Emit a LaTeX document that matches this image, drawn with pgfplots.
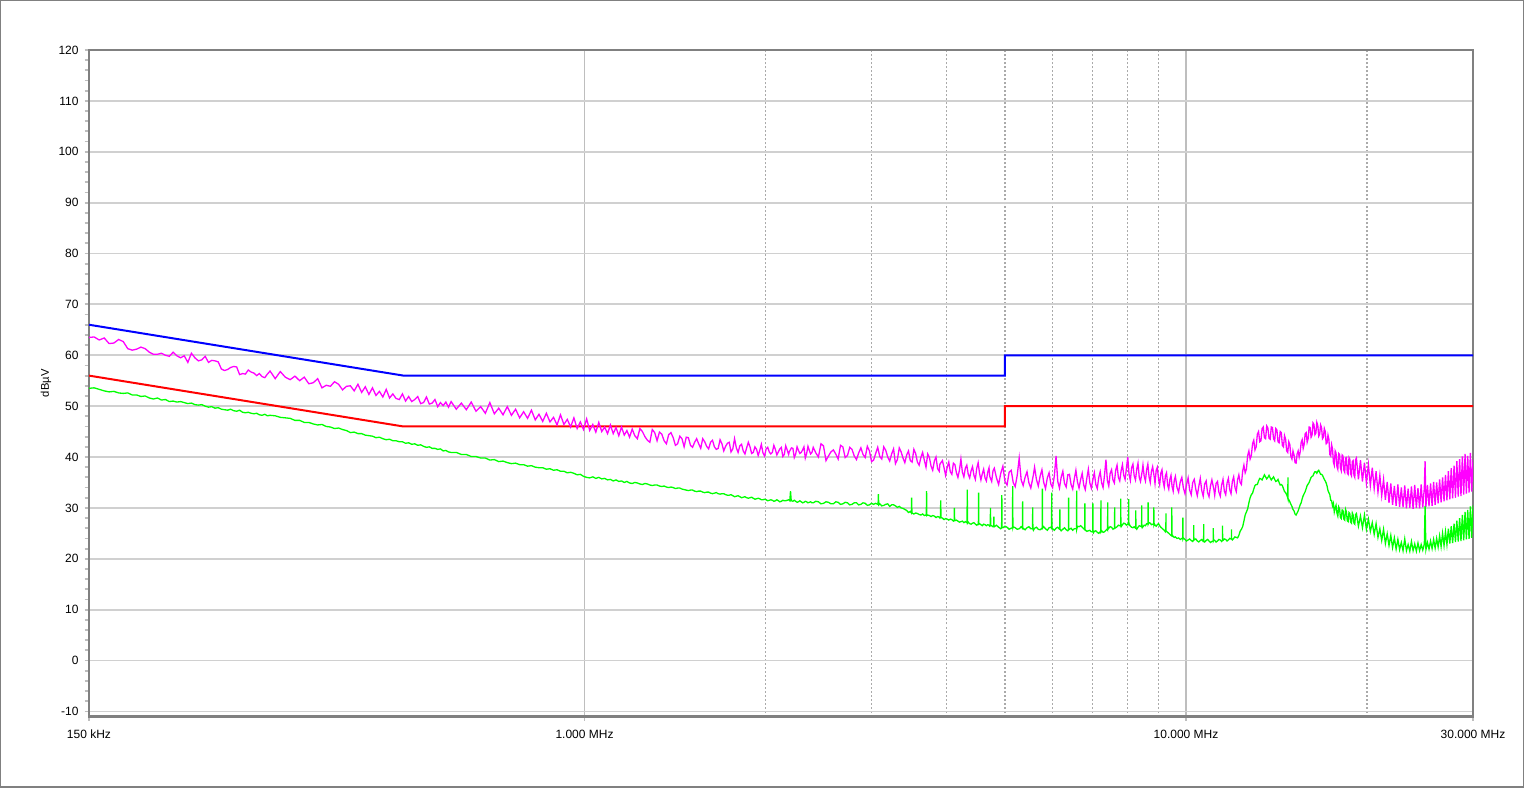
\documentclass[border=0pt]{standalone}
\usepackage{fontspec}
\setmainfont{Liberation Sans}
\usepackage{pgfplots}
\pgfplotsset{compat=1.18}
\usepackage{pgfplotstable}
\definecolor{mag}{RGB}{255,0,255}
\definecolor{grn}{RGB}{0,255,0}
\definecolor{blu}{RGB}{0,0,255}
\definecolor{rd}{RGB}{255,0,0}
\definecolor{gridc}{RGB}{208,208,208}
\definecolor{vgridc}{RGB}{190,190,190}
\definecolor{framec}{RGB}{128,128,128}
\definecolor{dotc}{RGB}{170,170,170}
\definecolor{tickc}{RGB}{190,190,190}

% f in MHz, pk = peak trace (dBuV), av = average trace (dBuV)
\pgfplotstableread{
f pk av
0.150 63.5 53.5
0.153 63.6 53.6
0.156 63.0 53.3
0.159 63.4 53.0
0.162 62.3 52.8
0.165 62.4 52.9
0.168 63.1 52.6
0.171 62.7 52.5
0.174 61.3 52.6
0.177 61.0 52.2
0.180 61.2 52.2
0.183 61.6 51.9
0.186 61.3 52.0
0.189 60.6 51.6
0.192 60.2 51.4
0.195 60.2 51.6
0.198 60.4 51.2
0.201 60.0 51.3
0.204 59.8 50.9
0.207 60.6 51.0
0.210 59.9 50.8
0.213 59.5 50.9
0.216 59.9 50.7
0.219 58.6 50.5
0.222 60.4 50.6
0.225 59.5 50.3
0.228 58.9 50.2
0.231 59.1 50.3
0.234 59.8 50.0
0.237 58.6 49.8
0.240 59.0 49.9
0.243 58.9 49.6
0.246 58.7 49.7
0.249 57.3 49.4
0.252 57.0 49.3
0.255 57.2 49.2
0.258 57.6 49.4
0.261 57.8 49.1
0.264 57.7 49.0
0.267 56.2 49.2
0.270 56.4 48.8
0.273 56.3 48.7
0.276 57.1 48.8
0.279 56.7 48.6
0.282 56.5 48.5
0.285 56.0 48.6
0.288 56.4 48.3
0.291 55.8 48.2
0.294 55.6 48.4
0.297 56.3 48.1
0.300 56.9 48.2
0.306 55.4 48.1
0.312 56.8 47.8
0.318 55.7 47.7
0.324 55.2 47.6
0.330 55.9 47.2
0.336 55.0 47.2
0.342 55.7 46.8
0.348 54.4 46.8
0.354 54.6 46.5
0.360 55.4 46.3
0.366 53.6 46.4
0.372 54.1 46.0
0.378 53.9 45.9
0.384 54.8 45.6
0.390 54.3 45.7
0.396 53.2 45.4
0.402 53.9 45.2
0.408 54.0 44.8
0.414 53.0 44.9
0.420 54.3 44.6
0.426 52.7 44.6
0.432 53.8 44.3
0.438 52.3 44.2
0.444 53.6 44.1
0.450 52.1 43.8
0.456 52.9 43.9
0.462 51.8 43.6
0.468 53.3 43.4
0.474 51.6 43.5
0.480 52.4 43.2
0.486 51.5 43.2
0.492 51.3 43.0
0.498 52.4 43.0
0.504 51.0 42.7
0.510 51.9 42.8
0.516 50.9 42.5
0.522 51.3 42.6
0.528 51.9 42.3
0.534 50.5 42.4
0.540 50.7 42.1
0.546 51.8 41.9
0.552 50.4 42.0
0.558 50.6 41.7
0.564 51.3 41.7
0.570 49.9 41.5
0.576 50.7 41.6
0.582 50.1 41.2
0.588 50.8 41.3
0.594 49.8 41.0
0.600 50.9 40.9
0.612 49.4 40.9
0.624 50.6 40.5
0.636 49.3 40.5
0.648 50.8 40.1
0.660 49.0 40.1
0.672 49.9 39.8
0.684 48.6 39.8
0.696 50.7 39.4
0.708 48.5 39.5
0.720 49.6 39.1
0.732 48.3 39.2
0.744 49.9 38.9
0.756 48.2 38.7
0.768 49.4 38.8
0.780 47.7 38.5
0.792 48.9 38.5
0.804 47.6 38.2
0.816 49.2 38.3
0.828 47.3 38.0
0.840 48.4 37.9
0.852 47.0 37.9
0.864 48.6 37.6
0.876 46.9 37.7
0.888 47.8 37.4
0.900 46.3 37.5
0.912 48.3 37.2
0.924 46.4 37.2
0.936 47.4 36.9
0.948 45.9 37.0
0.960 47.7 36.8
0.972 45.6 36.5
0.984 46.9 36.6
0.996 45.4 36.2
1.008 47.5 36.0
1.020 45.2 35.9
1.032 46.4 36.1
1.044 44.9 35.8
1.056 46.8 36.0
1.068 45.0 35.7
1.080 45.9 35.8
1.092 44.6 35.5
1.104 46.3 35.6
1.116 44.6 35.3
1.128 45.8 35.5
1.140 44.2 35.2
1.152 45.9 35.3
1.164 44.3 35.0
1.176 45.2 35.2
1.188 43.9 34.9
1.200 45.5 34.8
1.212 44.2 35.0
1.224 43.6 34.9
1.236 45.6 34.7
1.248 45.0 34.6
1.260 44.0 34.8
1.272 43.3 34.7
1.284 42.9 34.5
1.296 45.4 34.4
1.308 44.8 34.5
1.320 43.2 34.5
1.332 44.9 34.3
1.344 44.5 34.2
1.356 43.2 34.3
1.368 42.6 34.1
1.380 44.4 34.0
1.392 44.8 34.1
1.404 43.8 34.0
1.416 42.3 33.8
1.428 42.6 33.9
1.440 44.1 33.9
1.452 43.6 33.7
1.464 42.0 33.6
1.476 43.9 33.5
1.488 43.8 33.4
1.500 42.3 33.5
1.512 41.9 33.5
1.524 42.9 33.3
1.536 43.6 33.2
1.548 42.6 33.3
1.560 41.7 33.3
1.572 43.6 33.1
1.584 43.0 33.0
1.596 42.1 33.1
1.608 41.6 33.1
1.620 42.9 32.9
1.632 43.3 32.8
1.644 42.0 32.9
1.656 41.5 33.0
1.668 41.7 32.8
1.680 43.4 32.7
1.692 42.6 32.8
1.704 41.2 32.8
1.716 42.1 32.6
1.728 42.7 32.5
1.740 42.9 32.5
1.752 41.0 32.6
1.764 41.6 32.4
1.776 43.6 32.2
1.788 41.8 32.3
1.800 40.9 32.4
1.812 42.2 32.2
1.824 42.5 32.0
1.836 41.2 32.1
1.848 40.6 32.2
1.860 41.8 32.0
1.872 42.9 31.9
1.884 42.0 32.0
1.896 40.7 32.1
1.908 40.9 31.9
1.920 42.0 31.7
1.932 41.5 31.8
1.944 40.3 31.9
1.956 41.3 31.8
1.968 42.5 31.6
1.980 40.8 31.6
1.992 40.2 31.7
2.004 41.6 31.6
2.016 41.9 31.4
2.028 41.0 31.5
2.040 40.6 31.6
2.052 40.9 31.5
2.064 42.3 31.3
2.076 41.5 31.4
2.088 40.4 31.6
2.100 41.0 31.4
2.112 41.6 31.2
2.124 41.9 31.3
2.136 40.1 31.5
2.148 40.5 31.4
2.160 42.2 31.4
2.172 41.4 31.5
2.184 40.5 31.6
2.189 41.0 31.5
2.194 nan 31.4
2.200 nan 33.3
2.206 nan 31.4
2.208 41.8 31.4
2.220 41.7 31.3
2.232 39.9 31.5
2.244 40.6 31.3
2.256 42.0 31.1
2.268 41.3 31.2
2.280 40.7 31.4
2.292 40.9 31.2
2.304 41.4 31.0
2.316 42.0 31.1
2.328 39.8 31.3
2.340 40.7 31.2
2.352 42.1 31.0
2.364 41.3 31.1
2.376 40.6 31.2
2.388 40.9 31.0
2.400 41.9 31.0
2.424 40.8 31.3
2.448 40.0 31.2
2.472 42.6 30.8
2.496 42.2 30.9
2.520 39.3 31.2
2.544 40.2 31.1
2.568 41.0 30.8
2.592 41.4 30.8
2.616 40.6 31.2
2.640 39.6 31.1
2.664 42.3 30.7
2.688 42.0 30.8
2.712 39.9 31.1
2.736 40.3 31.0
2.760 41.9 30.6
2.784 41.5 30.7
2.808 40.2 31.0
2.832 39.5 31.0
2.856 40.8 30.6
2.880 41.8 30.7
2.904 40.5 31.0
2.928 39.9 30.9
2.952 42.1 30.5
2.976 41.2 30.6
3.000 39.1 30.9
3.024 39.4 30.7
3.048 40.7 30.9
3.072 41.9 30.7
3.076 nan 30.7
3.080 nan 32.7
3.084 nan 30.6
3.096 40.1 30.8
3.120 39.6 30.4
3.144 42.0 30.5
3.168 41.3 30.7
3.192 40.0 30.8
3.216 39.2 30.3
3.240 40.6 30.6
3.264 41.6 30.6
3.288 38.7 30.4
3.312 39.5 30.1
3.336 41.8 30.3
3.360 41.0 30.0
3.384 39.8 29.9
3.408 38.9 29.7
3.432 40.4 29.5
3.456 41.2 29.1
3.480 39.3 29.3
3.494 nan 29.0
3.498 nan 32.0
3.502 nan 29.0
3.504 39.0 29.0
3.528 41.5 28.8
3.552 40.7 29.0
3.576 39.0 28.9
3.600 38.4 28.7
3.624 39.9 28.6
3.648 40.9 28.8
3.672 39.4 28.5
3.696 38.0 28.6
3.700 nan 28.6
3.704 nan 33.3
3.708 nan 28.5
3.720 40.6 28.6
3.744 39.9 28.5
3.768 38.2 28.3
3.792 37.4 28.5
3.816 39.2 28.4
3.840 40.0 28.1
3.864 37.7 28.3
3.888 37.2 28.2
3.898 38.6 28.0
3.906 nan 28.1
3.910 nan 31.5
3.914 nan 28.1
3.936 39.3 28.0
3.960 37.9 27.7
3.984 36.4 27.9
4.008 38.0 27.8
4.032 39.0 27.6
4.056 37.1 27.8
4.080 36.6 27.7
4.104 38.8 27.4
4.116 nan 27.5
4.120 nan 30.0
4.124 nan 27.5
4.128 38.5 27.5
4.152 36.9 27.6
4.176 36.0 27.4
4.200 37.4 27.2
4.224 39.6 27.3
4.248 37.0 27.4
4.272 36.1 27.1
4.296 37.8 27.3
4.320 38.4 27.1
4.324 nan 27.1
4.328 nan 33.6
4.332 nan 27.0
4.344 36.6 27.2
4.368 35.9 26.9
4.392 37.3 26.8
4.416 38.1 27.0
4.440 36.4 27.1
4.464 35.6 26.8
4.488 37.8 26.6
4.512 38.9 26.8
4.516 nan 26.8
4.520 nan 33.0
4.524 nan 26.8
4.536 36.8 26.9
4.560 35.5 26.7
4.584 36.7 26.5
4.608 37.6 26.8
4.632 35.9 26.7
4.656 35.3 26.5
4.680 37.0 26.7
4.704 37.9 26.6
4.716 36.2 26.4
4.726 nan 26.5
4.730 nan 30.0
4.734 nan 26.5
4.752 35.2 26.5
4.776 37.3 26.3
4.788 nan 26.4
4.792 nan 28.3
4.796 nan 26.4
4.80 37.8 26.3
4.84 35.9 26.6
4.88 34.6 26.2
4.92 36.8 25.9
4.936 nan 26.1
4.940 nan 32.5
4.944 nan 26.1
4.96 38.2 26.1
5.00 35.2 26.4
5.04 34.5 26.2
5.08 37.0 25.8
5.12 37.4 26.0
5.146 nan 26.1
5.150 nan 34.3
5.154 nan 26.1
5.16 35.0 26.3
5.20 34.2 26.1
5.24 36.4 25.8
5.28 39.8 25.9
5.32 35.5 26.3
5.346 nan 26.0
5.350 nan 31.3
5.354 nan 26.0
5.36 34.4 26.0
5.40 36.0 25.7
5.44 37.1 26.1
5.48 34.9 26.3
5.52 33.9 25.9
5.556 nan 25.9
5.560 nan 30.1
5.564 nan 25.9
5.575 36.5 25.6
5.60 38.0 26.0
5.64 35.6 26.2
5.68 34.3 25.8
5.72 36.2 25.7
5.76 37.5 26.0
5.766 nan 26.0
5.770 nan 33.8
5.774 nan 26.0
5.80 35.0 26.3
5.84 33.8 25.9
5.88 35.9 25.6
5.92 36.9 26.1
5.96 34.7 26.2
5.976 nan 26.0
5.980 nan 33.0
5.984 nan 26.0
6.00 34.0 25.9
6.04 36.3 25.6
6.08 40.2 26.0
6.12 35.2 26.2
6.16 33.9 25.8
6.166 nan 25.8
6.170 nan 29.7
6.174 nan 25.8
6.20 36.0 25.5
6.24 37.2 25.8
6.28 34.8 26.1
6.32 34.1 25.7
6.36 36.5 25.5
6.376 nan 25.7
6.380 nan 32.0
6.384 nan 25.7
6.40 36.6 25.8
6.44 34.6 26.0
6.48 33.7 25.6
6.52 35.7 25.9
6.56 37.4 25.9
6.576 nan 25.9
6.580 nan 33.4
6.584 nan 25.9
6.60 35.1 26.4
6.64 33.9 26.3
6.68 35.6 26.5
6.72 36.8 26.2
6.76 34.5 25.9
6.786 nan 25.7
6.790 nan 30.9
6.794 nan 25.7
6.80 33.6 25.7
6.84 35.8 25.4
6.88 37.6 25.5
6.92 34.9 25.6
6.96 33.9 25.3
6.996 nan 25.3
7.000 nan 30.9
7.004 nan 25.3
7.015 36.1 25.1
7.04 36.9 25.4
7.08 34.6 25.5
7.12 33.8 25.2
7.16 36.0 25.0
7.20 37.1 25.3
7.216 nan 25.3
7.220 nan 31.5
7.224 nan 25.3
7.24 34.9 25.5
7.28 34.0 25.2
7.32 36.4 25.3
7.36 39.5 25.6
7.40 35.4 25.9
7.406 nan 25.8
7.410 nan 31.1
7.414 nan 25.8
7.44 34.3 26.0
7.48 36.8 26.3
7.52 37.5 26.2
7.56 35.5 25.8
7.60 34.9 26.0
7.606 nan 26.0
7.610 nan 30.1
7.614 nan 26.0
7.64 37.4 26.1
7.68 38.4 26.3
7.72 36.0 26.6
7.76 35.3 26.5
7.786 nan 26.5
7.790 nan 31.8
7.794 nan 26.5
7.80 37.3 26.3
7.84 38.5 26.7
7.88 36.4 27.0
7.92 35.6 26.9
7.96 37.7 26.6
8.00 40.0 26.8
8.026 nan 26.7
8.030 nan 31.7
8.034 nan 26.7
8.04 36.6 26.9
8.08 35.4 26.4
8.12 37.9 26.2
8.16 38.6 26.1
8.20 36.3 26.3
8.24 35.5 26.0
8.246 nan 26.0
8.250 nan 29.5
8.254 nan 26.0
8.28 37.6 25.8
8.32 38.8 26.2
8.36 36.0 26.5
8.40 35.2 26.4
8.436 nan 26.3
8.440 nan 30.5
8.444 nan 26.3
8.455 37.2 26.1
8.48 38.4 26.3
8.52 36.2 26.6
8.56 35.3 26.5
8.60 37.5 26.9
8.64 38.6 26.8
8.646 nan 26.8
8.650 nan 31.1
8.654 nan 26.8
8.68 36.1 27.1
8.72 35.0 27.0
8.76 37.2 26.7
8.80 38.1 26.8
8.836 nan 26.7
8.840 nan 30.1
8.844 nan 26.7
8.855 36.0 26.9
8.88 34.8 26.6
8.92 37.4 26.4
8.96 38.0 26.7
9.00 35.7 26.9
9.04 34.6 26.5
9.08 36.8 26.2
9.12 37.5 26.0
9.16 35.2 25.8
9.20 34.1 25.6
9.24 36.3 25.3
9.256 nan 25.5
9.260 nan 28.9
9.264 nan 25.5
9.28 36.9 25.4
9.32 34.5 25.2
9.36 33.7 25.0
9.40 35.6 24.8
9.44 36.4 24.6
9.466 nan 24.5
9.470 nan 30.1
9.474 nan 24.5
9.48 34.2 24.7
9.52 33.3 24.4
9.56 35.4 24.2
9.60 36.2 24.3
9.66 34.0 24.0
9.72 33.1 24.1
9.78 35.1 23.8
9.84 36.0 24.0
9.876 nan 23.9
9.880 nan 28.1
9.884 nan 23.9
9.90 33.9 24.1
9.96 32.8 23.8
10.02 34.6 23.5
10.08 35.9 23.7
10.14 33.5 23.9
10.20 32.6 23.6
10.26 35.0 23.4
10.296 nan 23.7
10.300 nan 26.6
10.304 nan 23.7
10.32 35.6 23.7
10.38 33.7 23.9
10.44 32.4 23.5
10.50 34.2 23.3
10.56 35.8 23.6
10.62 33.4 23.8
10.68 32.3 23.4
10.696 nan 23.5
10.700 nan 26.8
10.704 nan 23.5
10.74 34.7 23.3
10.80 35.3 23.6
10.86 33.0 23.8
10.92 32.2 23.5
10.98 34.3 23.2
11.04 35.5 23.4
11.096 nan 23.5
11.100 nan 26.0
11.104 nan 23.5
11.125 33.6 23.7
11.16 32.5 23.6
11.22 34.8 23.3
11.28 35.2 23.5
11.34 33.1 23.8
11.40 32.3 23.7
11.46 34.5 23.4
11.496 nan 23.6
11.500 nan 26.5
11.504 nan 23.6
11.52 35.6 23.6
11.58 33.3 23.9
11.64 32.6 23.8
11.70 34.9 23.5
11.76 35.8 23.7
11.82 33.6 24.0
11.88 32.8 23.9
11.896 nan 23.9
11.900 nan 25.8
11.904 nan 23.9
11.94 35.2 23.7
12.00 36.1 24.0
12.06 34.0 24.3
12.12 33.2 24.2
12.18 35.5 24.1
12.24 36.5 24.6
12.30 35.0 25.4
12.36 34.6 25.8
12.42 37.2 26.3
12.48 38.4 27.4
12.54 36.9 28.6
12.60 37.6 29.2
12.66 40.3 29.8
12.72 41.2 31.0
12.78 39.6 32.0
12.84 40.3 32.6
12.90 42.6 32.9
12.96 43.3 33.7
13.02 41.4 34.4
13.08 42.0 34.6
13.14 44.5 34.6
13.20 45.0 35.3
13.26 43.0 35.8
13.32 43.2 35.7
13.38 45.6 35.5
13.44 45.9 36.0
13.50 43.8 36.5
13.56 43.6 36.1
13.62 46.1 35.7
13.68 45.7 36.0
13.74 43.7 36.4
13.80 43.5 35.9
13.86 45.9 35.5
13.92 45.8 35.8
13.98 43.6 36.1
14.04 43.2 35.6
14.10 45.6 35.2
14.16 45.3 35.3
14.22 43.0 35.6
14.28 42.8 35.0
14.34 45.0 34.5
14.40 44.8 34.6
14.46 42.3 34.4
14.52 42.0 33.8
14.58 44.2 33.2
14.64 43.5 33.0
14.70 41.2 32.6
14.76 40.9 32.0
14.766 nan 31.9
14.770 nan 36.0
14.774 nan 31.9
14.82 43.0 31.6
14.88 42.4 31.2
14.94 40.1 30.7
15.00 39.6 30.3
15.06 41.2 29.7
15.12 40.4 29.4
15.18 38.9 28.8
15.24 38.8 28.6
15.30 40.6 29.0
15.36 41.2 29.4
15.42 40.0 30.0
15.48 41.0 30.6
15.54 42.9 31.0
15.60 43.4 31.8
15.66 41.7 32.4
15.72 42.5 32.8
15.78 44.6 33.2
15.84 44.8 33.8
15.90 42.9 34.4
15.96 43.6 34.7
16.02 45.9 35.0
16.08 45.8 35.5
16.14 43.9 36.0
16.20 44.3 36.2
16.26 46.7 36.3
16.32 46.4 36.8
16.38 44.4 37.1
16.44 44.7 37.1
16.50 46.8 36.8
16.56 46.2 37.2
16.62 44.1 37.4
16.68 44.5 37.0
16.74 46.3 36.6
16.80 45.8 36.6
16.86 43.6 36.4
16.92 43.9 36.0
16.98 45.6 35.6
17.04 45.0 35.3
17.10 42.6 34.9
17.16 42.8 34.3
17.22 44.3 33.4
17.28 43.5 33.0
17.34 40.5 32.6
17.40 40.2 31.5
17.46 42.4 31.4
17.52 41.6 30.4
17.58 39.0 30.9
17.64 38.4 29.2
17.70 41.2 30.0
17.76 40.8 30.5
17.82 38.1 29.0
17.88 37.6 28.4
17.94 40.7 30.2
18.00 40.5 29.8
18.06 37.8 28.1
18.12 37.3 27.9
18.18 40.4 29.6
18.24 40.2 29.5
18.30 37.4 27.8
18.36 37.0 27.6
18.42 39.8 29.7
18.48 39.9 29.2
18.54 36.9 27.5
18.60 36.6 27.3
18.66 39.9 29.1
18.72 39.6 28.9
18.78 36.7 27.2
18.84 36.3 27.0
18.90 39.1 29.0
18.96 39.3 28.6
19.02 36.4 27.0
19.08 36.0 26.8
19.14 39.5 28.7
19.20 39.8 28.9
19.35 35.6 26.4
19.50 39.4 28.4
19.65 35.2 26.1
19.80 38.9 28.6
19.95 34.9 25.8
20.10 38.5 27.8
20.25 34.4 25.4
20.40 37.9 27.1
20.55 33.8 24.8
20.70 37.2 26.9
20.85 33.1 24.2
21.00 36.4 25.9
21.15 32.4 23.6
21.30 35.6 25.8
21.45 31.6 23.0
21.60 35.1 24.9
21.75 31.0 22.6
21.90 34.8 24.6
22.05 30.6 22.2
22.20 34.3 24.1
22.35 30.4 21.9
22.50 34.6 23.8
22.65 30.2 21.8
22.80 34.0 23.2
22.95 30.1 21.6
23.10 34.4 23.9
23.25 29.9 21.6
23.40 33.8 22.8
23.55 30.0 21.5
23.70 34.2 23.4
23.85 29.8 21.6
24.00 34.5 22.9
24.15 30.0 21.5
24.30 33.9 23.1
24.45 29.9 21.6
24.60 34.6 22.8
24.75 30.1 21.7
24.90 34.0 22.9
24.97 39.2 30.4
25.05 30.2 21.8
25.20 34.5 23.2
25.35 30.3 21.9
25.50 34.8 23.5
25.65 30.4 22.0
25.80 35.1 23.8
25.95 30.6 22.1
26.10 35.0 24.0
26.25 30.9 22.3
26.40 35.6 24.5
26.55 31.1 22.4
26.70 36.0 25.0
26.85 31.3 22.6
27.00 36.5 25.3
27.15 31.5 22.8
27.30 37.2 25.9
27.45 31.7 23.0
27.60 37.8 26.4
27.75 31.9 23.1
27.90 38.3 26.9
28.05 32.0 23.3
28.20 39.2 27.5
28.35 32.2 23.4
28.50 39.6 28.0
28.65 32.3 23.5
28.80 40.1 28.6
28.95 32.6 23.6
29.10 40.6 29.2
29.25 32.8 23.8
29.40 40.2 29.6
29.55 33.0 23.9
29.70 40.8 30.3
29.85 33.2 24.1
30.00 39.5 30.5
}\emi

\begin{document}
\begin{tikzpicture}
\useasboundingbox (0,0) rectangle (762pt,393.5pt);
\draw[framec, line width=1pt] (0,0) rectangle (762pt,393.5pt);
\begin{axis}[
  at={(44.5pt,35.25pt)}, anchor=south west,
  scale only axis, width=692pt, height=333.25pt,
  xmode=log, xmin=0.15, xmax=30, ymin=-11, ymax=120,
  xtick={0.15,1,10,30},
  xticklabels={150 kHz,1.000 MHz,10.000 MHz,30.000 MHz},
  minor xtick={2,3,4,5,6,7,8,9,20},
  ytick={-10,0,10,20,30,40,50,60,70,80,90,100,110,120},
  minor ytick={-8,-6,-4,-2,2,4,6,8,12,14,16,18,22,24,26,28,32,34,36,38,42,44,46,48,52,54,56,58,62,64,66,68,72,74,76,78,82,84,86,88,92,94,96,98,102,104,106,108,112,114,116,118},
  xmajorgrids=true, xminorgrids=true, ymajorgrids=true, yminorgrids=false,
  major x grid style={vgridc, line width=0.9pt},
  major y grid style={gridc, line width=0.9pt},
  minor x grid style={dotc, line width=0.6pt, dash pattern=on 1pt off 1pt},
  axis line style={framec, line width=1.1pt},
  tick align=outside,
  xtick pos=bottom, ytick pos=left,
  major tick length=2.2pt, minor tick length=2.2pt,
  major tick style={tickc, line width=0.9pt},
  minor y tick style={tickc, line width=0.9pt},
  minor x tick style={draw=none},
  /pgf/number format/assume math mode=true,
  ticklabel style={font=\fontsize{6}{7}\selectfont, text=black},
  yticklabel style={xshift=0.5pt},
  xticklabel style={yshift=-1pt},
  ylabel={dBµV},
  ylabel style={font=\fontsize{5.6}{7}\selectfont, at={(axis description cs:-0.031,0.5)}, anchor=center},
  clip=true,
]
\addplot[blu, line width=1pt] coordinates {(0.15,66) (0.5,56) (5,56) (5,60) (30,60)};
\addplot[rd, line width=1pt] coordinates {(0.15,56) (0.5,46) (5,46) (5,50) (30,50)};
\addplot[mag, line width=0.65pt] table[x=f, y=pk] {\emi};
\addplot[grn, line width=0.65pt] table[x=f, y=av] {\emi};
\end{axis}
\end{tikzpicture}
\end{document}
